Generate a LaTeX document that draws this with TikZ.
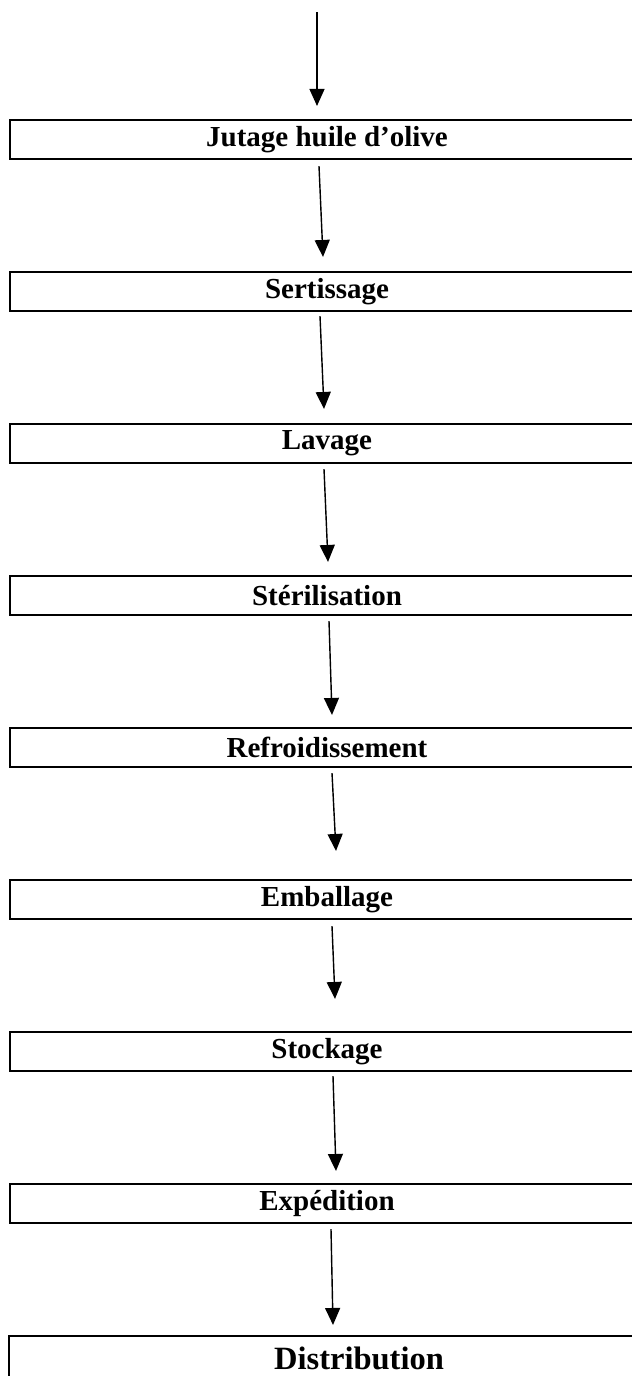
\documentclass[tikz,border=0pt]{standalone}
\usepackage{fontspec}
\setmainfont{Liberation Serif}
\usetikzlibrary{calc}
\usetikzlibrary{arrows.meta}

\tikzset{
    stage/.style={draw, line width=1.2pt, minimum width=12.7cm, minimum height=0.78cm,
        inner sep=0pt, font=\fontsize{16.5}{18}\selectfont\bfseries},
    flow/.style={line width=0.8pt, -{Triangle[length=0.34cm,width=0.3cm]}}
}

\begin{document}
\begin{tikzpicture}[x=0.02cm, y=-0.02cm]
    \clip (0,0) rectangle (632,1376);
    % Stages of the process
    \node[stage] (jutage) at (327,139.5) {Jutage huile d’olive};
    \node[stage] (sertissage) at (327,291.5) {Sertissage};
    \node[stage] (lavage) at (327,443.5) {Lavage};
    \node[stage] (sterilisation) at (327,595.5) {Stérilisation};
    \node[stage] (refroidissement) at (327,747.5) {Refroidissement};
    \node[stage] (emballage) at (327,899.5) {Emballage};
    \node[stage] (stockage) at (327,1051.5) {Stockage};
    \node[stage] (expedition) at (327,1203.5) {Expédition};
    \node[stage, minimum width=14cm, minimum height=0.9cm,
        font=\fontsize{18.5}{20}\selectfont\bfseries] (distribution) at (359,1358.5) {Distribution};

    % Arrows between stages
    \coordinate (entree) at (317,12);
    \draw[flow] (entree) -- ($(jutage.north)+(-10,-13)$);
    \draw[flow] ($(jutage.south)+(-8,6)$) -- ($(sertissage.north)+(-4,-14)$);
    \draw[flow] ($(sertissage.south)+(-7,4)$) -- ($(lavage.north)+(-3,-14)$);
    \draw[flow] ($(lavage.south)+(-3,5)$) -- ($(sterilisation.north)+(1,-13)$);
    \draw[flow] ($(sterilisation.south)+(2,5)$) -- ($(refroidissement.north)+(5,-12)$);
    \draw[flow] ($(refroidissement.south)+(5,5)$) -- ($(emballage.north)+(9,-28)$);
    \draw[flow] ($(emballage.south)+(5,6)$) -- ($(stockage.north)+(8,-32)$);
    \draw[flow] ($(stockage.south)+(6,4)$) -- ($(expedition.north)+(9,-12)$);
    \draw[flow] ($(expedition.south)+(4,5)$) -- ($(distribution.north)+(-26,-10)$);
\end{tikzpicture}
\end{document}
